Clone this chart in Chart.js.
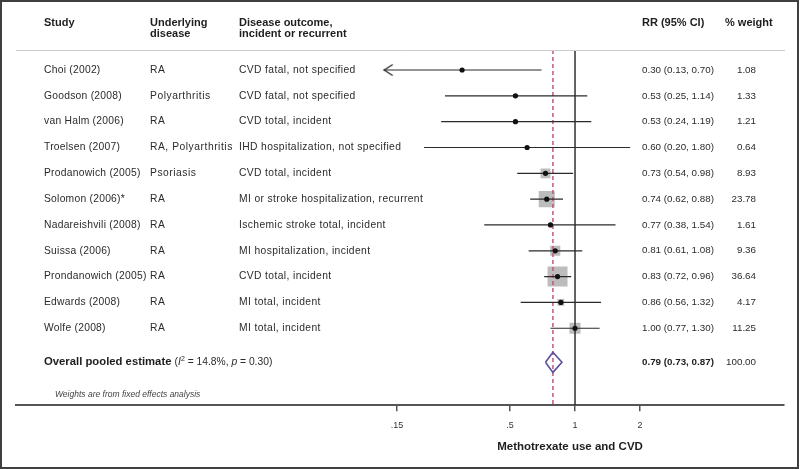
<!DOCTYPE html>
<html>
<head>
<meta charset="utf-8">
<title>Methotrexate use and CVD</title>
<script src="https://cdn.jsdelivr.net/npm/chart.js@4.4.1/dist/chart.umd.min.js"></script>
<style>
  html, body { margin: 0; padding: 0; background: #fff; }
  canvas { display: block; }
</style>
</head>
<body>
<canvas id="forest" width="800" height="469"></canvas>
<script>
// Values
const studies = ['Choi (2002)', 'Goodson (2008)', 'van Halm (2006)', 'Troelsen (2007)', 'Prodanowich (2005)',
  'Solomon (2006)*', 'Nadareishvili (2008)', 'Suissa (2006)', 'Prondanowich (2005)', 'Edwards (2008)', 'Wolfe (2008)'];
const diseases = ['RA', 'Polyarthritis', 'RA', 'RA, Polyarthritis', 'Psoriasis', 'RA', 'RA', 'RA', 'RA', 'RA', 'RA'];
const outcomes = ['CVD fatal, not specified', 'CVD fatal, not specified', 'CVD total, incident',
  'IHD hospitalization, not specified', 'CVD total, incident', 'MI or stroke hospitalization, recurrent',
  'Ischemic stroke total, incident', 'MI hospitalization, incident', 'CVD total, incident',
  'MI total, incident', 'MI total, incident'];
const riskRatios = [0.30, 0.53, 0.53, 0.60, 0.73, 0.74, 0.77, 0.81, 0.83, 0.86, 1.00];
const lowerCI = [0.13, 0.25, 0.24, 0.20, 0.54, 0.62, 0.38, 0.61, 0.72, 0.56, 0.77];
const upperCI = [0.70, 1.14, 1.19, 1.80, 0.98, 0.88, 1.54, 1.08, 0.96, 1.32, 1.30];
const weights = [1.08, 1.33, 1.21, 0.64, 8.93, 23.78, 1.61, 9.36, 36.64, 4.17, 11.25];

const pooledRR = 0.79;
const pooledLower = 0.73;
const pooledUpper = 0.87;
const pooledWeight = 100.00;

const tickValues = [0.15, 0.5, 1, 2];
const tickLabels = ['.15', '.5', '1', '2'];

// Layout
const FONT = '"Liberation Sans", Arial, Helvetica, sans-serif';
Chart.defaults.font.family = FONT;
const colX = { study: 44, disease: 150, outcome: 239, rr: 642, weight: 756 };
const pooledRow = 11.32;
const diamondHalf = 0.39;
const ink = '#2b2b2b';

const fmt = v => v.toFixed(2);
const rrText = (r, l, u) => `${fmt(r)} (${fmt(l)}, ${fmt(u)})`;

function ciSegments() {
  const pts = [];
  studies.forEach((_, i) => {
    pts.push({ x: lowerCI[i], y: i }, { x: upperCI[i], y: i }, { x: null, y: null });
  });
  return pts;
}

// open arrow head for intervals running off the left of the axis
function arrowHead() {
  const c = document.createElement('canvas');
  c.width = 24; c.height = 16;
  const g = c.getContext('2d');
  g.strokeStyle = ink; g.lineWidth = 1.3;
  g.beginPath();
  g.moveTo(21, 2.5); g.lineTo(12.5, 8); g.lineTo(21, 13.5);
  g.stroke();
  return c;
}

const tablePlugin = {
  id: 'forestTable',
  afterDraw(chart) {
    const { ctx, chartArea, scales: { x, y } } = chart;
    ctx.save();

    // header rule
    ctx.strokeStyle = '#cdcdcd';
    ctx.lineWidth = 1;
    ctx.beginPath();
    ctx.moveTo(chartArea.left, chartArea.top + 0.5);
    ctx.lineTo(chartArea.right + 1, chartArea.top + 0.5);
    ctx.stroke();

    // headers
    const h1 = chartArea.top - 27, h2 = chartArea.top - 16;
    ctx.fillStyle = '#1e1e1e';
    ctx.font = `bold 11px ${FONT}`;
    ctx.textBaseline = 'middle';
    ctx.textAlign = 'left';
    ctx.fillText('Study', colX.study, h1);
    ctx.fillText('Underlying', colX.disease, h1);
    ctx.fillText('disease', colX.disease, h2);
    ctx.fillText('Disease outcome,', colX.outcome, h1);
    ctx.fillText('incident or recurrent', colX.outcome, h2);
    ctx.fillText('RR (95% CI)', colX.rr, h1);
    ctx.fillText('% weight', 725, h1);

    // study rows
    ctx.fillStyle = ink;
    studies.forEach((s, i) => {
      const py = y.getPixelForValue(i);
      ctx.textAlign = 'left';
      ctx.font = `10.3px ${FONT}`;
      ctx.letterSpacing = '0.25px';
      ctx.fillText(s, colX.study, py);
      ctx.letterSpacing = '0.53px';
      ctx.fillText(diseases[i], colX.disease, py);
      ctx.letterSpacing = '0.38px';
      ctx.fillText(outcomes[i], colX.outcome, py);
      ctx.letterSpacing = '0px';
      ctx.font = `9.8px ${FONT}`;
      ctx.fillText(rrText(riskRatios[i], lowerCI[i], upperCI[i]), colX.rr, py);
      ctx.textAlign = 'right';
      ctx.fillText(fmt(weights[i]), colX.weight, py);
    });

    // pooled row
    const py = y.getPixelForValue(pooledRow);
    ctx.textAlign = 'left';
    let cx = colX.study;
    const seg = (text, font, dy = 0) => {
      ctx.font = font;
      ctx.fillText(text, cx, py + dy);
      cx += ctx.measureText(text).width;
    };
    ctx.fillStyle = '#1e1e1e';
    seg('Overall pooled estimate ', `bold 11.3px ${FONT}`);
    ctx.fillStyle = ink;
    seg('(', `10.3px ${FONT}`);
    seg('I', `italic 10.3px ${FONT}`);
    seg('2', `7px ${FONT}`, -3);
    seg(' = 14.8%, ', `10.3px ${FONT}`);
    seg('p', `italic 10.3px ${FONT}`);
    seg(' = 0.30)', `10.3px ${FONT}`);
    ctx.fillStyle = '#1e1e1e';
    ctx.font = `bold 9.8px ${FONT}`;
    ctx.fillText(rrText(pooledRR, pooledLower, pooledUpper), colX.rr, py);
    ctx.fillStyle = ink;
    ctx.font = `9.8px ${FONT}`;
    ctx.textAlign = 'right';
    ctx.fillText(fmt(pooledWeight), colX.weight, py);

    // footnote
    ctx.textAlign = 'left';
    ctx.fillStyle = '#444';
    ctx.font = `italic 8.5px ${FONT}`;
    ctx.fillText('Weights are from fixed effects analysis', 55, chartArea.bottom - 11);

    // axis title
    ctx.fillStyle = '#1e1e1e';
    ctx.font = `bold 11.5px ${FONT}`;
    ctx.textAlign = 'center';
    ctx.fillText('Methotrexate use and CVD', x.getPixelForValue(1) - 5, chartArea.bottom + 42);

    // outer frame
    ctx.strokeStyle = '#3f3f3f';
    ctx.lineWidth = 2;
    ctx.strokeRect(1, 1, 797, 467);
    ctx.restore();
  }
};

const yTop = -0.775, yBottom = 12.98;

new Chart(document.getElementById('forest'), {
  type: 'scatter',
  data: {
    datasets: [
      {
        label: 'RR',
        data: riskRatios.map((r, i) => ({ x: r, y: i })),
        pointRadius: 2.6,
        pointBackgroundColor: '#111',
        pointBorderWidth: 0,
        order: 1
      },
      {
        label: 'arrows',
        data: lowerCI.map((l, i) => ({ x: l, y: i })).filter(p => p.x < tickValues[0]),
        pointStyle: arrowHead(),
        order: 2
      },
      {
        type: 'line',
        label: 'pooled',
        data: [
          { x: pooledLower, y: pooledRow },
          { x: pooledRR, y: pooledRow - diamondHalf },
          { x: pooledUpper, y: pooledRow },
          { x: pooledRR, y: pooledRow + diamondHalf },
          { x: pooledLower, y: pooledRow }
        ],
        borderColor: '#5a4f9e',
        borderWidth: 1.6,
        pointRadius: 0,
        fill: false,
        order: 2
      },
      {
        type: 'line',
        label: 'CI',
        data: ciSegments(),
        borderColor: ink,
        borderWidth: 1.2,
        pointRadius: 0,
        spanGaps: false,
        fill: false,
        order: 3
      },
      {
        type: 'line',
        label: 'no effect',
        data: [{ x: 1, y: yTop }, { x: 1, y: yBottom }],
        borderColor: '#222',
        borderWidth: 1.4,
        pointRadius: 0,
        order: 4
      },
      {
        type: 'line',
        label: 'pooled estimate',
        data: [{ x: pooledRR, y: yTop }, { x: pooledRR, y: yBottom }],
        borderColor: '#c9567a',
        borderWidth: 1.5,
        borderDash: [4, 3],
        pointRadius: 0,
        order: 4
      },
      {
        label: 'weight',
        data: riskRatios.map((r, i) => ({ x: r, y: i })),
        pointStyle: 'rect',
        pointRadius: weights.map(w => 3.3 * Math.sqrt(w) / Math.SQRT2),
        pointBackgroundColor: '#bcbcbc',
        pointBorderWidth: 0,
        order: 5
      }
    ]
  },
  options: {
    responsive: false,
    animation: false,
    events: [],
    layout: { padding: { top: 50, left: 16, right: 16, bottom: 29 } },
    plugins: { legend: { display: false }, tooltip: { enabled: false } },
    scales: {
      x: {
        type: 'logarithmic',
        min: 0.002581,
        max: 9.28,
        bounds: 'data',
        afterBuildTicks: axis => { axis.ticks = tickValues.map(v => ({ value: v })); },
        ticks: {
          autoSkip: false,
          maxRotation: 0,
          padding: 9,
          color: '#333',
          font: { size: 9 },
          callback: (v, i) => tickLabels[i]
        },
        grid: { drawOnChartArea: false, tickLength: 6, color: '#555', lineWidth: 1.5 },
        border: { display: true, color: '#555', width: 2 }
      },
      y: {
        type: 'linear',
        reverse: true,
        min: yTop,
        max: yBottom,
        display: false
      }
    }
  },
  plugins: [tablePlugin]
});
</script>
</body>
</html>
